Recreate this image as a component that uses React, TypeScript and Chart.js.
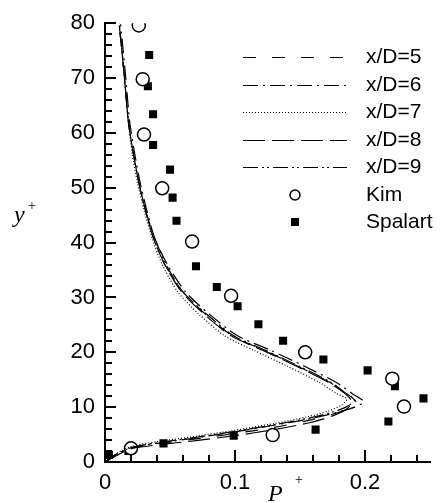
import React, { useEffect, useRef } from "react";
import { Chart, registerables } from "chart.js";

Chart.register(...registerables);

// ---- data ----
const xd5Y = [0, 1.2, 2.5, 3.3, 4.2, 5.2, 6.3, 7.5, 8.7, 9.8, 11.0, 12.6, 14.5, 17.5, 20.3, 23, 27, 31, 36, 41, 46, 51, 56, 62, 70, 75, 79.5];
const xd5X = [0, 0.008, 0.02, 0.04, 0.07, 0.10, 0.13, 0.155, 0.175, 0.188, 0.193, 0.185, 0.173, 0.148, 0.123, 0.098, 0.077, 0.060, 0.046, 0.037, 0.031, 0.026, 0.022, 0.018, 0.015, 0.013, 0.011];

const xd6Y = [0, 1.3, 2.6, 3.4, 4.4, 5.5, 6.7, 7.9, 9.0, 10.0, 11.0, 12.5, 14.5, 17.5, 20.3, 23, 27, 31, 36, 41, 46, 51, 56, 62, 70, 75, 79.8];
const xd6X = [0, 0.008, 0.02, 0.04, 0.07, 0.10, 0.13, 0.158, 0.178, 0.192, 0.199, 0.190, 0.178, 0.153, 0.128, 0.102, 0.080, 0.062, 0.048, 0.038, 0.032, 0.027, 0.023, 0.019, 0.016, 0.014, 0.012];

const xd7Y = [0, 1.4, 2.8, 3.7, 4.7, 5.8, 7.0, 8.2, 9.3, 10.4, 11.5, 12.5, 14.5, 17.5, 20.3, 23, 27, 31, 36, 41, 46, 51, 56, 62, 70, 75, 79];
const xd7X = [0, 0.008, 0.02, 0.04, 0.07, 0.10, 0.13, 0.155, 0.172, 0.182, 0.186, 0.178, 0.165, 0.140, 0.115, 0.092, 0.072, 0.056, 0.044, 0.036, 0.030, 0.025, 0.021, 0.018, 0.015, 0.013, 0.011];

const xd8Y = [0, 1.2, 2.4, 3.1, 3.9, 4.8, 5.9, 7.2, 8.5, 9.7, 11.0, 12.6, 14.5, 17.5, 20.3, 23, 27, 31, 36, 41, 46, 51, 56, 62, 70, 75, 79.6];
const xd8X = [0, 0.009, 0.02, 0.04, 0.07, 0.10, 0.13, 0.158, 0.176, 0.186, 0.190, 0.184, 0.172, 0.147, 0.122, 0.097, 0.076, 0.059, 0.046, 0.037, 0.031, 0.026, 0.022, 0.018, 0.015, 0.013, 0.011];

const xd9Y = [0, 1.3, 2.6, 3.5, 4.5, 5.6, 6.8, 8.0, 9.1, 10.1, 11.3, 12.6, 14.5, 17.5, 20.3, 23, 27, 31, 36, 41, 46, 51, 56, 62, 70, 75, 80];
const xd9X = [0, 0.008, 0.02, 0.04, 0.07, 0.10, 0.13, 0.157, 0.175, 0.186, 0.192, 0.185, 0.174, 0.149, 0.124, 0.099, 0.078, 0.060, 0.047, 0.038, 0.031, 0.026, 0.022, 0.018, 0.015, 0.013, 0.011];

const kimY = [2.5, 4.9, 10.1, 15.2, 20.0, 30.3, 40.2, 49.9, 59.7, 69.8, 79.6];
const kimX = [0.020, 0.129, 0.230, 0.221, 0.154, 0.097, 0.067, 0.044, 0.030, 0.029, 0.026];

const spalartY = [1.3, 2.0, 3.4, 4.8, 5.9, 7.4, 11.6, 13.8, 16.7, 18.7, 22.1, 25.1, 28.4, 31.9, 35.7, 39.9, 44.0, 48.2, 53.3, 57.8, 63.4, 68.5, 74.2];
const spalartX = [0.003, 0.018, 0.045, 0.099, 0.162, 0.218, 0.245, 0.223, 0.202, 0.168, 0.137, 0.118, 0.102, 0.086, 0.070, 0.067, 0.055, 0.052, 0.050, 0.037, 0.037, 0.033, 0.034];

const lineLabels = ["x/D=5", "x/D=6", "x/D=7", "x/D=8", "x/D=9"];
const lineDashes = [[13, 16], [15, 5, 2, 5], [1, 2], [22, 7], [15, 4, 2, 3, 2, 4]];
const lineYs = [xd5Y, xd6Y, xd7Y, xd8Y, xd9Y];
const lineXs = [xd5X, xd6X, xd7X, xd8X, xd9X];

const yTickLabels = [0, 10, 20, 30, 40, 50, 60, 70, 80];
const xTickLabels = [0, 0.1, 0.2];
const yMinorStep = 2;
const xMinorStep = 0.02;

const zip = (xs: number[], ys: number[]) => xs.map((x, i) => ({ x, y: ys[i] }));

const SANS = "'Liberation Sans', Arial, sans-serif";
const SERIF = "'Liberation Serif', 'Times New Roman', serif";

const decorPlugin = {
  id: "decor",
  afterDraw(chart: any) {
    const ctx = chart.ctx;
    const xs = chart.scales.x;
    const ys = chart.scales.y;
    const area = chart.chartArea;
    ctx.save();
    ctx.fillStyle = "#000";
    // inward ticks on y
    for (let k = 0; k <= 40; k++) {
      const v = k * yMinorStep;
      const py = Math.round(ys.getPixelForValue(v));
      const len = k % 5 === 0 ? 11 : 7;
      ctx.fillRect(area.left - 1, py - 1, len + 1, 2);
    }
    // inward ticks on x
    for (let i = 0; i <= 12; i++) {
      const v = i * xMinorStep;
      const px = Math.round(xs.getPixelForValue(v));
      const len = i % 5 === 0 ? 12 : 7;
      ctx.fillRect(px - 1, area.bottom - len, 2, len + 1);
    }
    // axis titles
    ctx.textBaseline = "alphabetic";
    ctx.textAlign = "left";
    ctx.font = `italic 24px ${SERIF}`;
    ctx.fillText("y", 14, 222);
    ctx.font = `14px ${SERIF}`;
    ctx.textAlign = "center";
    ctx.textBaseline = "middle";
    ctx.fillText("+", 32, 206);
    ctx.textAlign = "left";
    ctx.textBaseline = "alphabetic";
    ctx.font = `italic 24px ${SERIF}`;
    ctx.fillText("P", 268, 501);
    ctx.font = `14px ${SERIF}`;
    ctx.textAlign = "center";
    ctx.textBaseline = "middle";
    ctx.fillText("+", 299, 480);

    // legend
    const rows = [57, 85, 112, 140, 167, 195, 222];
    const x0 = 243, x1 = 347, tx = 366;
    ctx.font = `21px ${SANS}`;
    ctx.textAlign = "left";
    ctx.textBaseline = "middle";
    ctx.strokeStyle = "#000";
    for (let i = 0; i < lineLabels.length; i++) {
      const y = rows[i] + 0.5;
      ctx.setLineDash(lineDashes[i]);
      ctx.lineWidth = 1.2;
      ctx.beginPath();
      ctx.moveTo(x0, y);
      ctx.lineTo(x1, y);
      ctx.stroke();
      ctx.setLineDash([]);
      ctx.fillText(lineLabels[i], tx, rows[i]);
    }
    // Kim
    ctx.lineWidth = 1.5;
    ctx.beginPath();
    ctx.arc(295, rows[5], 5, 0, Math.PI * 2);
    ctx.fillStyle = "#fff";
    ctx.fill();
    ctx.stroke();
    ctx.fillStyle = "#000";
    ctx.fillText("Kim", tx, rows[5]);
    // Spalart
    ctx.fillRect(291, rows[6] - 4, 8, 8);
    ctx.fillText("Spalart", tx, rows[6]);
    ctx.restore();
  },
};

export default function App() {
  const ref = useRef<HTMLCanvasElement | null>(null);
  useEffect(() => {
    document.body.style.margin = "0";
    const canvas = ref.current;
    if (!canvas) return;
    const lineSets = lineLabels.map((label, i) => ({
      label,
      data: zip(lineXs[i], lineYs[i]),
      showLine: true,
      borderColor: "#000",
      borderWidth: 1.2,
      borderDash: lineDashes[i],
      pointRadius: 0,
      tension: 0.25,
      fill: false,
    }));
    const chart = new Chart(canvas, {
      type: "scatter",
      data: {
        datasets: [
          ...lineSets,
          {
            label: "Kim",
            data: zip(kimX, kimY),
            pointStyle: "circle",
            pointRadius: 6.5,
            pointBorderWidth: 1.5,
            borderColor: "#000",
            backgroundColor: "#fff",
            showLine: false,
          },
          {
            label: "Spalart",
            data: zip(spalartX, spalartY),
            pointStyle: "rect",
            pointRadius: 5.7,
            pointBorderWidth: 0,
            borderColor: "#000",
            backgroundColor: "#000",
            showLine: false,
          },
        ] as any,
      },
      options: {
        animation: false,
        responsive: false,
        layout: { padding: { left: 0, top: 20, right: 12, bottom: 0 } },
        plugins: { legend: { display: false }, tooltip: { enabled: false } },
        scales: {
          x: {
            type: "linear",
            min: 0,
            max: 0.25,
            grid: { display: false, drawTicks: false },
            border: { display: true, color: "#000", width: 2 },
            ticks: {
              stepSize: 0.1,
              padding: 8,
              color: "#000",
              font: { family: SANS, size: 22 },
              callback: (v: any) => String(Number(Number(v).toFixed(2))),
            },
            afterBuildTicks: (scale: any) => {
              scale.ticks = xTickLabels.map((value) => ({ value }));
            },
            afterFit: (scale: any) => {
              scale.height = 41;
            },
          },
          y: {
            type: "linear",
            min: 0,
            max: 80,
            grid: { display: false, drawTicks: false },
            border: { display: true, color: "#000", width: 2 },
            ticks: {
              stepSize: 10,
              padding: 10,
              color: "#000",
              font: { family: SANS, size: 22 },
            },
            afterBuildTicks: (scale: any) => {
              scale.ticks = yTickLabels.map((value) => ({ value }));
            },
            afterFit: (scale: any) => {
              scale.width = 105;
            },
          },
        },
      } as any,
      plugins: [decorPlugin],
    });
    return () => chart.destroy();
  }, []);
  return (
    <div style={{ width: 442, height: 503 }}>
      <canvas ref={ref} width={442} height={503} />
    </div>
  );
}
